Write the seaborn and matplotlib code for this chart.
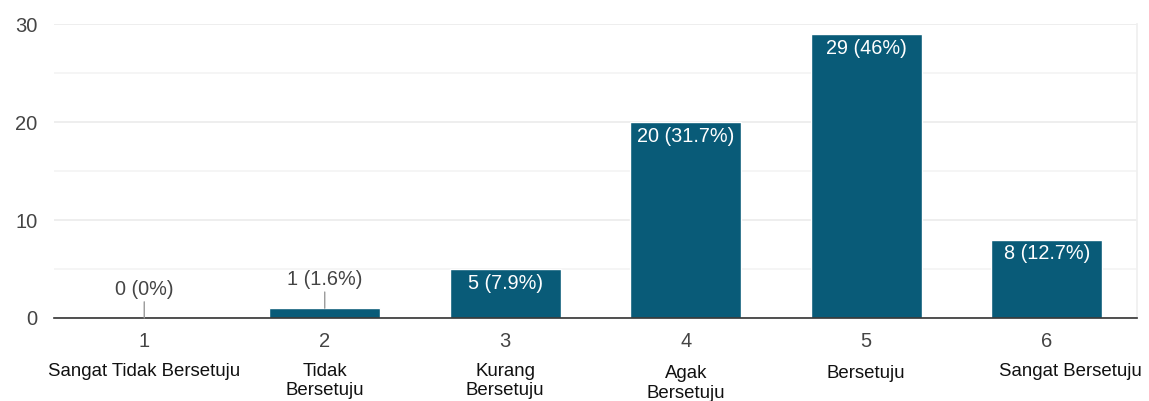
import matplotlib

matplotlib.use("Agg")
import matplotlib.pyplot as plt
import pandas as pd
import seaborn as sns
from matplotlib.ticker import MultipleLocator

# nilai dari grafik
scale = ["1", "2", "3", "4", "5", "6"]
names = [
    "Sangat Tidak Bersetuju",
    "Tidak\nBersetuju",
    "Kurang\nBersetuju",
    "Agak\nBersetuju",
    "Bersetuju",
    "Sangat Bersetuju",
]
counts = [0, 1, 5, 20, 29, 8]
pct_labels = ["0%", "1.6%", "7.9%", "31.7%", "46%", "12.7%"]

BAR = "#095b78"
TXT = "#444444"

df = pd.DataFrame({"scale": scale, "count": counts})

sns.set_theme(style="white")
plt.rcParams["font.family"] = ["Liberation Sans", "DejaVu Sans"]

fig = plt.figure(figsize=(11.49, 4.01), dpi=100)
ax = fig.add_axes([0.047, 0.207, 0.9425, 0.733])

sns.barplot(data=df, x="scale", y="count", color=BAR, width=0.615, saturation=1, ax=ax)

ax.set_ylim(0, 30)
ax.set_xlim(-0.5, 5.5)
ax.yaxis.set_major_locator(MultipleLocator(10))
ax.yaxis.set_minor_locator(MultipleLocator(5))
ax.grid(axis="y", which="major", color="#ebebeb", lw=1.2)
ax.grid(axis="y", which="minor", color="#f3f3f3", lw=1.2)
ax.set_axisbelow(True)
ax.set_xlabel("")
ax.set_ylabel("")

for s in ["left", "top"]:
    ax.spines[s].set_visible(False)
ax.spines["right"].set_color("#f0f0f0")
ax.spines["bottom"].set_color("#333333")
ax.spines["bottom"].set_linewidth(1.2)

ax.tick_params(axis="both", length=0, labelsize=14.5, labelcolor=TXT)
ax.tick_params(axis="x", pad=10)
ax.tick_params(axis="y", pad=12)

# label nilai di tiap batang
for i, (c, p) in enumerate(zip(counts, pct_labels)):
    label = f"{c} ({p})"
    if c >= 3:
        ax.annotate(label, xy=(i, c), xytext=(0, -3.5), textcoords="offset points",
                    ha="center", va="top", color="white", fontsize=14.3)
    else:
        ax.annotate(label, xy=(i, c), xytext=(0, 14), textcoords="offset points",
                    ha="center", va="bottom", color=TXT, fontsize=14.3,
                    arrowprops=dict(arrowstyle="-", color="#999999", lw=1,
                                    shrinkA=0, shrinkB=0))

# nama kategori di bawah angka skala
for i, n in enumerate(names):
    dx = 17 if i == len(names) - 1 else 0
    dy = -34 if n in ("Agak\nBersetuju", "Bersetuju") else -32.5
    ax.annotate(n, xy=(i, 0), xycoords=("data", "axes fraction"),
                xytext=(dx, dy), textcoords="offset points",
                ha="center", va="top", fontsize=13.4, color="#111111",
                linespacing=1.18, annotation_clip=False)

fig.savefig("out.png", dpi=100)
